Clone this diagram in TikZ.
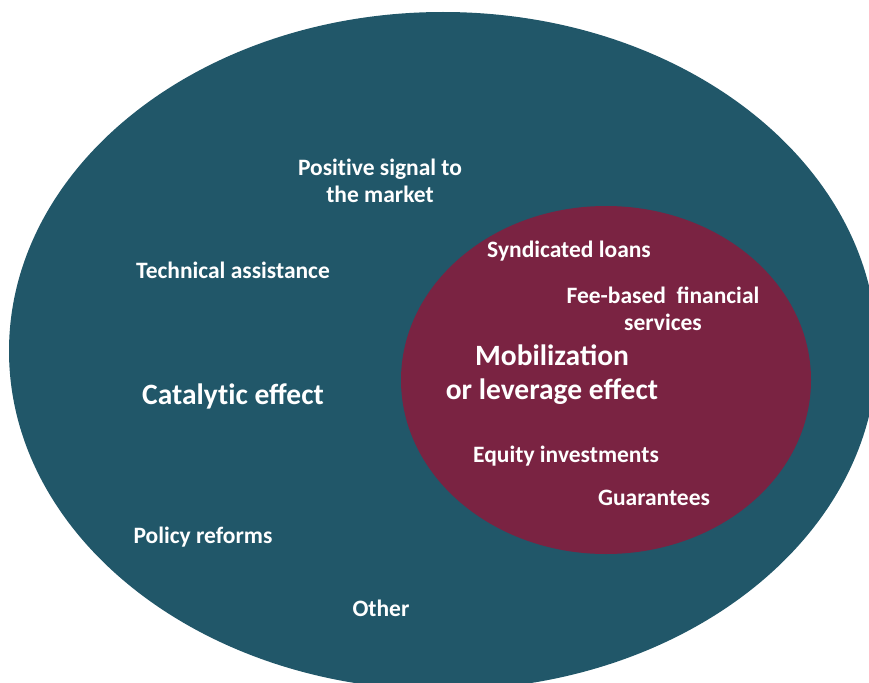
\documentclass[tikz,border=0pt]{standalone}
\usepackage{fontspec}
\setmainfont{Carlito}
\usetikzlibrary{shapes.geometric}
\definecolor{outerteal}{HTML}{215769}
\definecolor{innermaroon}{HTML}{7A2342}

\begin{document}
\begin{tikzpicture}[x=1pt,y=-1pt,
        blob/.style={ellipse,inner sep=0pt},
        lbl/.style={text=white,align=center,font=\bfseries\fontsize{23.5}{27}\selectfont},
        head/.style={lbl,font=\bfseries\fontsize{29.5}{34}\selectfont}]
        \useasboundingbox (0,0) rectangle (869,682);
        \node[blob,fill=outerteal,minimum width=868pt,minimum height=678pt] (outer) at (443,351) {};
        \node[blob,fill=innermaroon,minimum width=410pt,minimum height=348pt] (inner) at (606,380) {};
        \node[lbl] (signal) at (380,181) {Posit\kern0pt ive signal to\\the market};
        \node[lbl] (techassist) at (233,270) {Technical assistance};
        \node[head] (catalytic) at (233,396) {Catalyt\kern0pt ic effect};
        \node[lbl] (policy) at (203,537) {Policy reforms};
        \node[lbl] (other) at (381,608) {Other};
        \node[lbl] (syndicated) at (569,251) {Syndicated loans};
        \node[lbl] (feebased) at (663,309) {Fee-based~ financial\\services};
        \node[head] (mobilization) at (552,375) {Mobilization\\or leverage effect};
        \node[lbl] (equity) at (566,456) {Equity investments};
        \node[lbl] (guarantees) at (654,498) {Guarantees};
      \end{tikzpicture}
\end{document}
